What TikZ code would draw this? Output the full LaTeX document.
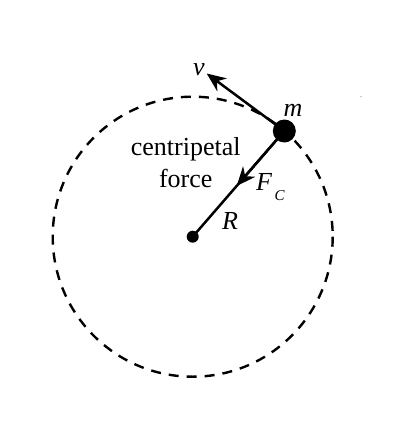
\documentclass[tikz,border=0pt]{standalone}
\usepackage{fontspec}
\setmainfont{Liberation Serif}
\usetikzlibrary{arrows.meta,calc}
\begin{document}
\begin{tikzpicture}[x=1pt,y=-1pt,
  orbit/.style={draw=black,line width=2.4pt,dash pattern=on 10pt off 8pt},
  vec/.style={line width=2.5pt,-{Stealth[length=19pt,width=16pt,inset=6pt]}},
  lbl/.style={font=\fontsize{26}{30}\selectfont,inner sep=0pt},
  sym/.style={font=\fontsize{26}{30}\selectfont\itshape,inner sep=0pt}]
\useasboundingbox (0,0) rectangle (400,444);
\coordinate (O) at (192.7,236.7);
\coordinate (M) at (284.3,131);
\coordinate (V) at (206.7,73.5);
\draw[orbit] (O) circle[radius=140];
\draw[line width=2.5pt] (M) -- (O);
\coordinate (H) at ($(M)!0.52!(O)$);
\draw[vec] (M) -- (H);
\draw[vec] (M) -- (V);
\fill (O) circle[radius=6];
\fill (M) circle[radius=11.5];
\fill[gray!60] (361,96.7) circle[radius=0.8];
\node[sym,anchor=base] (v) at (199,75.5) {v};
\node[sym,anchor=base] (m) at (293,116.7) {m};
\node[sym,anchor=base west] (F) at (256,190.7) {F};
\node[inner sep=0pt,anchor=base west,font=\fontsize{15}{18}\selectfont\itshape] (C) at (274.5,200) {C};
\node[sym,anchor=base] (R) at (230,229) {R};
\node[lbl,anchor=base] (t1) at (185.7,155) {centripetal};
\node[lbl,anchor=base] (t2) at (185.7,187.3) {force};
\end{tikzpicture}
\end{document}
